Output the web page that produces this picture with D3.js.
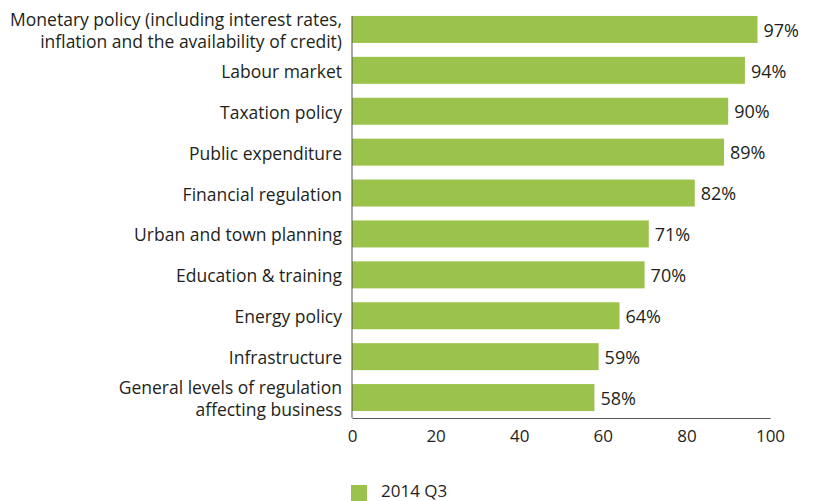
<!DOCTYPE html>
<html>
<head>
<meta charset="utf-8">
<script src="https://cdn.jsdelivr.net/npm/d3@7"></script>
<style>
  html, body { margin: 0; padding: 0; background: #fff; }
  svg text { font-family: "Open Sans", "Noto Sans", sans-serif; fill: #231f20; }
</style>
</head>
<body>
<svg id="chart" width="817" height="501"></svg>
<script>
// Share of respondents, 2014 Q3
const categories = [
  ["Monetary policy (including interest rates,", "inflation and the availability of credit)"],
  ["Labour market"],
  ["Taxation policy"],
  ["Public expenditure"],
  ["Financial regulation"],
  ["Urban and town planning"],
  ["Education & training"],
  ["Energy policy"],
  ["Infrastructure"],
  ["General levels of regulation", "affecting business"]
];
const values = [97, 94, 90, 89, 82, 71, 70, 64, 59, 58];
const xTicks = [0, 20, 40, 60, 80, 100];
const seriesName = "2014 Q3";
const barColor = "#9bc34b";

const svg = d3.select("#chart");
const plotLeft = 352, plotRight = 770, plotTop = 9, plotBottom = 418;

const x = d3.scaleLinear().domain([0, 100]).range([plotLeft, plotRight]);
const y = d3.scaleBand()
  .domain(d3.range(values.length))
  .range([plotTop, plotBottom])
  .paddingInner(0.34)
  .paddingOuter(0.17);

// bars
svg.append("g").selectAll("rect")
  .data(values)
  .join("rect")
  .attr("x", x(0))
  .attr("y", (d, i) => y(i))
  .attr("width", d => x(d) - x(0))
  .attr("height", y.bandwidth())
  .attr("fill", barColor);

// value labels
svg.append("g").selectAll("text")
  .data(values)
  .join("text")
  .attr("x", d => x(d) + 6)
  .attr("y", (d, i) => y(i) + y.bandwidth() / 2)
  .attr("dy", "0.4em")
  .style("font-size", "18px")
  .text(d => d + "%");

// category labels (one or two lines)
const lineGap = 22;
const catG = svg.append("g");
categories.forEach((lines, i) => {
  const cy = y(i) + y.bandwidth() / 2;
  const t = catG.append("text")
    .attr("text-anchor", "end")
    .style("font-size", "17.5px");
  lines.forEach((ln, j) => {
    t.append("tspan")
      .attr("x", 342)
      .attr("y", cy + (j - (lines.length - 1) / 2) * lineGap)
      .attr("dy", "0.43em")
      .text(ln);
  });
});

// axes
const xAxis = svg.append("g")
  .attr("transform", `translate(0,${plotBottom})`)
  .call(d3.axisBottom(x).tickValues(xTicks).tickSize(0).tickPadding(12));
xAxis.select(".domain").attr("stroke", "#555").attr("stroke-width", 1);
xAxis.selectAll("text")
  .style("font-size", "17px")
  .style("font-family", "\"Open Sans\", \"Noto Sans\", sans-serif")
  .attr("fill", "#231f20");

svg.append("line")
  .attr("x1", plotLeft).attr("x2", plotLeft)
  .attr("y1", plotTop + 7).attr("y2", plotBottom)
  .attr("stroke", "#555")
  .attr("stroke-width", 1);

// legend
const legend = svg.append("g").attr("transform", "translate(351,485)");
legend.append("rect").attr("width", 16).attr("height", 16).attr("fill", barColor);
legend.append("text")
  .attr("x", 30).attr("y", 12)
  .style("font-size", "17px")
  .text(seriesName);
</script>
</body>
</html>
